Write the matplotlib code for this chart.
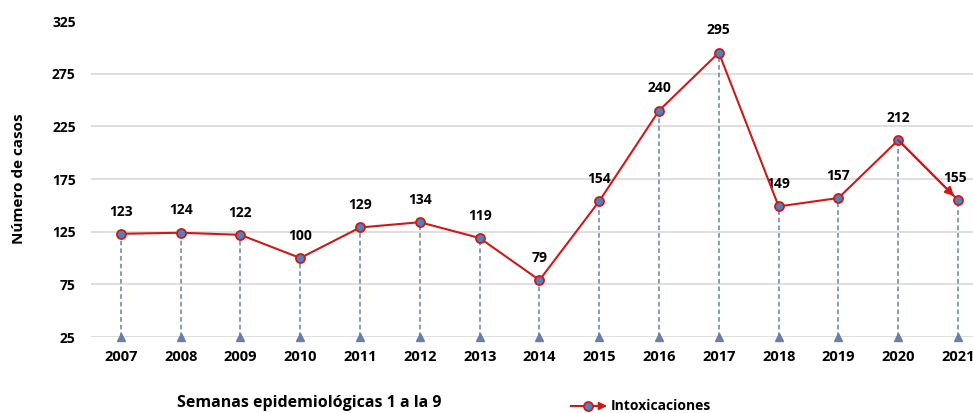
import matplotlib
matplotlib.use("Agg")
import matplotlib.pyplot as plt
from matplotlib.lines import Line2D

plt.rcParams["font.family"] = ["Open Sans", "DejaVu Sans"]

years = ["2007", "2008", "2009", "2010", "2011", "2012", "2013", "2014",
         "2015", "2016", "2017", "2018", "2019", "2020", "2021"]
cases = [123, 124, 122, 100, 129, 134, 119, 79, 154, 240, 295, 149, 157, 212, 155]
yticks = [25, 75, 125, 175, 225, 275, 325]
series_name = "Intoxicaciones"

RED = "#cc1a1a"
BLUE = "#4f81bd"
DROP = "#6a7fa8"

fig = plt.figure(figsize=(9.73, 4.13), dpi=100)
ax = fig.add_axes([0.0935, 0.184, 0.9065, 0.765])

x = list(range(len(years)))
base = yticks[0]

# lineas verticales punteadas + triangulos en la base
for xi, v in zip(x, cases):
    ax.plot([xi, xi], [base, v], ls=(0, (3, 2)), lw=1.1, color=DROP, zorder=2)
ax.plot(x, [base] * len(x), ls="none", marker="^", ms=6, color=DROP,
        clip_on=False, zorder=3)

ax.plot(x, cases, color=RED, lw=1.5, marker="o", ms=6.5, mfc=BLUE, mec=RED,
        mew=1.3, zorder=4)
# flecha en el ultimo tramo
ax.annotate("", xy=(x[-1], cases[-1]), xytext=(x[-2], cases[-2]),
            arrowprops=dict(arrowstyle="-|>", color=RED, lw=1.5,
                            mutation_scale=13, shrinkB=4, shrinkA=0),
            zorder=5)

for xi, v in zip(x, cases):
    dx = -0.05 if xi == x[-1] else 0
    ax.annotate(str(v), (xi + dx, v), xytext=(0, 11), textcoords="offset points",
                ha="center", va="bottom", fontsize=10, fontweight="bold")

ax.set_ylim(25, 325)
ax.set_xlim(-0.5, 14.25)
ax.set_yticks(yticks)
ax.set_yticklabels([str(t) for t in yticks], fontsize=10, fontweight="bold")
ax.set_xticks(x)
ax.set_xticklabels(years, fontsize=10.5, fontweight="bold")
ax.tick_params(length=0, pad=9)
ax.tick_params(axis="y", pad=11)

for t in yticks[:-1]:
    ax.axhline(t, color="#d9d9d9", lw=1.2, zorder=1)
for s in ax.spines.values():
    s.set_visible(False)

ax.set_ylabel("Número de casos", fontsize=11, fontweight="bold")
ax.yaxis.set_label_coords(-0.074, 0.5)

fig.text(0.182, 0.024, "Semanas epidemiológicas 1 a la 9", fontsize=11.5,
         fontweight="bold", ha="left", va="center")

# leyenda dibujada a mano (linea con marcador y flecha)
ly = 0.017
fig.add_artist(Line2D([0.587, 0.615], [ly, ly], color=RED, lw=1.5,
                      transform=fig.transFigure))
ax.annotate("", xy=(0.624, ly), xytext=(0.605, ly), xycoords="figure fraction",
            arrowprops=dict(arrowstyle="-|>", color=RED, lw=1.5,
                            mutation_scale=11, shrinkA=0, shrinkB=0),
            annotation_clip=False)
fig.add_artist(Line2D([0.604], [ly], ls="none", marker="o", ms=6.5, mfc=BLUE,
                      mec=RED, mew=1.3, transform=fig.transFigure))
fig.text(0.628, ly, series_name, fontsize=10, fontweight="bold",
         ha="left", va="center")

fig.savefig("out.png", dpi=100)
